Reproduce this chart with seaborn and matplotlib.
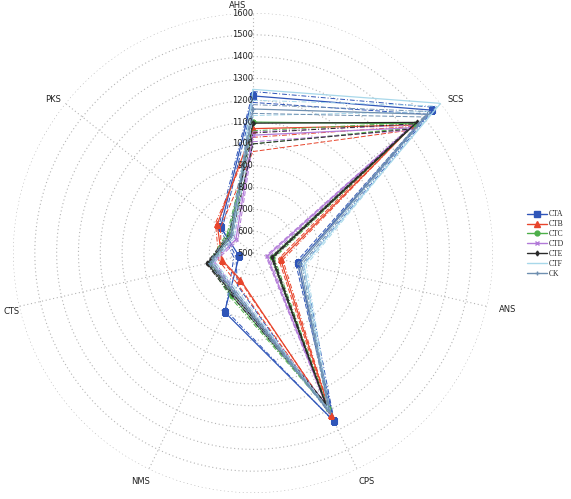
import numpy as np
import pandas as pd
import matplotlib
matplotlib.use("Agg")
import matplotlib.pyplot as plt
import seaborn as sns
from matplotlib.lines import Line2D

sns.set_theme(style="white")
plt.rcParams['font.family'] = ['DejaVu Sans']

axes_labels = ["AHS", "SCS", "ANS", "CPS", "NMS", "CTS", "PKS"]
series = ["CTA", "CTB", "CTC", "CTD", "CTE", "CTF", "CK"]

# mean values (order: AHS, SCS, ANS, CPS, NMS, CTS, PKS)
CTA = [1220, 1550, 710, 1355, 800, 565, 690]
CTB = [1070, 1440, 630, 1325, 635, 645, 710]
CTC = [1100, 1450, 590, 1290, 720, 700, 640]
CTD = [1040, 1420, 566, 1280, 700, 690, 600]
CTE = [1095, 1460, 590, 1270, 710, 716, 630]
CTF = [1250, 1600, 740, 1300, 690, 690, 620]
CK = [1160, 1520, 720, 1310, 700, 700, 630]

# lower / upper lines
CTA_lo = [1190, 1520, 700, 1340, 665, 580, 680]
CTA_hi = [1240, 1570, 738, 1360, 790, 590, 700]
CTB_lo = [965, 1400, 620, 1300, 640, 650, 690]
CTB_hi = [1030, 1430, 640, 1330, 660, 660, 720]
CTC_lo = [1000, 1420, 585, 1270, 710, 690, 630]
CTC_hi = [1060, 1460, 600, 1300, 730, 710, 650]
CTD_lo = [1010, 1400, 560, 1260, 690, 680, 590]
CTD_hi = [1055, 1440, 575, 1290, 715, 700, 610]
CTE_lo = [1000, 1410, 585, 1260, 700, 710, 625]
CTE_hi = [1050, 1450, 595, 1285, 720, 720, 640]
CTF_lo = [1130, 1540, 730, 1290, 680, 680, 610]
CTF_hi = [1200, 1580, 750, 1320, 700, 700, 630]
CK_lo = [1140, 1500, 710, 1300, 690, 690, 620]
CK_hi = [1180, 1540, 730, 1320, 710, 710, 640]

ticks = [500, 600, 700, 800, 900, 1000, 1100, 1200, 1300, 1400, 1500, 1600]

means = dict(CTA=CTA, CTB=CTB, CTC=CTC, CTD=CTD, CTE=CTE, CTF=CTF, CK=CK)
lows = dict(CTA=CTA_lo, CTB=CTB_lo, CTC=CTC_lo, CTD=CTD_lo, CTE=CTE_lo, CTF=CTF_lo, CK=CK_lo)
highs = dict(CTA=CTA_hi, CTB=CTB_hi, CTC=CTC_hi, CTD=CTD_hi, CTE=CTE_hi, CTF=CTF_hi, CK=CK_hi)

colors = dict(CTA="#2F55B8", CTB="#E8452C", CTC="#4DAF4A", CTD="#B27AD8",
              CTE="#2A2A2A", CTF="#A8D8EA", CK="#6F8FB0")
markers = dict(CTA="s", CTB="^", CTC="o", CTD="x", CTE="d", CTF=None, CK="+")
msize = dict(CTA=4, CTB=4, CTC=3.5, CTD=3.5, CTE=2.5, CTF=0, CK=3.5)

n = len(axes_labels)
theta = np.linspace(0, 2 * np.pi, n, endpoint=False)
theta_c = np.append(theta, 2 * np.pi)

fig = plt.figure(figsize=(5.71, 4.99), dpi=100)
ax = fig.add_axes([13 / 571, 6 / 499, 480 / 571, 480 / 499], projection="polar")
ax.set_theta_zero_location("N")
ax.set_theta_direction(-1)
ax.set_ylim(500, 1600)
ax.set_facecolor("white")
ax.spines["polar"].set_visible(False)
ax.grid(False)

# rings and spokes
grid_c = "#b4b4b4"
tt = np.linspace(0, 2 * np.pi, 400)
for v in ticks[1:]:
    ax.plot(tt, np.full_like(tt, v), color=grid_c, lw=0.8, ls=(0, (1, 2.4)), zorder=1)
for t in theta:
    ax.plot([t, t], [500, 1600], color=grid_c, lw=0.8, ls=(0, (1, 2.4)), zorder=1)

def draw(vals, color, style, lw, marker, ms):
    df = pd.DataFrame({"theta": theta_c, "value": list(vals) + [vals[0]]})
    kw = dict(data=df, x="theta", y="value", ax=ax, color=color, lw=lw,
              sort=False, estimator=None, legend=False, zorder=3)
    if marker:
        kw.update(marker=marker, markersize=ms, markeredgecolor=color,
                  markeredgewidth=0.8)
    sns.lineplot(linestyle=style, **kw)

for s in series:
    c = colors[s]
    draw(lows[s], c, (0, (5, 2)), 0.7, None, 0)
    draw(highs[s], c, (0, (5, 2, 1, 2)), 0.7, None, 0)
    draw(means[s], c, "-", 0.9, markers[s], msize[s])

ax.set_xticks([])
ax.set_yticks([])
ax.set_xlabel("")
ax.set_ylabel("")

for v in ticks:
    ax.text(0, v, str(v), ha="right", va="center", fontsize=6, color="#222222",
            zorder=5)

# category labels, positioned in figure pixels as in the reference
label_px = {"AHS": (238, 5), "SCS": (456, 100), "ANS": (508, 310),
            "CPS": (367, 481), "NMS": (141, 481), "CTS": (12, 311),
            "PKS": (53, 100)}
for lab in axes_labels:
    px, py = label_px[lab]
    fig.text(px / 571, 1 - py / 499, lab, ha="center", va="center",
             fontsize=6, color="#222222")

handles = []
for s in series:
    handles.append(Line2D([0], [0], color=colors[s], lw=1.0,
                          marker=markers[s] if markers[s] else None,
                          markersize=msize[s], markeredgecolor=colors[s]))
leg = fig.legend(handles, series, loc="center left",
                 bbox_to_anchor=(524 / 571, 1 - 244 / 499), frameon=False,
                 prop={"family": "Liberation Serif", "size": 5.5},
                 handlelength=2.6, handletextpad=0.3, labelspacing=0.25,
                 borderaxespad=0)

fig.savefig("out.png", dpi=100, facecolor="white")
